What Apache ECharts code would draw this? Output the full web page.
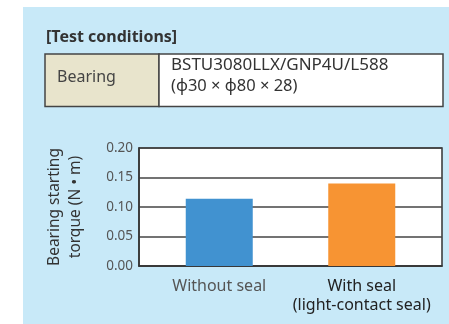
<!DOCTYPE html>
<html>
<head>
<meta charset="utf-8">
<script src="https://cdn.jsdelivr.net/npm/echarts@6/dist/echarts.min.js"></script>
<style>
  html, body { margin: 0; padding: 0; background: #fff; }
  #chart { width: 449px; height: 324px; }
</style>
</head>
<body>
<div id="chart"></div>
<script>
// values
const categories = ['Without seal', 'With seal\n(light-contact seal)']
const torque = [0.114, 0.14]
const barColors = ['#4192d0', '#f79433']
const yTicks = [0, 0.05, 0.1, 0.15, 0.2]

const FONT = '"Noto Sans", "Open Sans", sans-serif'
const yMax = yTicks[yTicks.length - 1]

let chart = echarts.init(document.getElementById('chart'), null, { width: 449, height: 324 })

chart.setOption({
  animation: false,
  textStyle: { fontFamily: FONT },
  graphic: [
    // light blue panel
    { type: 'rect', z: -10, shape: { x: 23, y: 7, width: 430, height: 320 }, style: { fill: '#c8e9f8' } },
    { type: 'text', left: 46, top: 29, style: { text: '[Test conditions]', font: 'bold 16px ' + FONT, fill: '#333' } },
    // table
    { type: 'rect', shape: { x: 45, y: 54, width: 114, height: 52.5 }, style: { fill: '#e8e4cc', stroke: '#444', lineWidth: 1.5 } },
    { type: 'rect', shape: { x: 159, y: 54, width: 284, height: 52.5 }, style: { fill: '#fff', stroke: '#444', lineWidth: 1.5 } },
    { type: 'text', left: 57, top: 69, style: { text: 'Bearing', font: '16px ' + FONT, fill: '#444' } },
    { type: 'text', left: 171, top: 57, style: { text: 'BSTU3080LLX/GNP4U/L588', font: '17px ' + FONT, fill: '#333' } },
    { type: 'text', left: 171, top: 78, style: { text: '(\u03d530 \u00d7 \u03d580 \u00d7 28)', font: '16.5px ' + FONT, fill: '#333' } }
  ],
  grid: [
    // frame + gridlines
    { left: 139, top: 148, right: 7, bottom: 58, show: true, backgroundColor: '#fff', borderColor: '#333', borderWidth: 1.5 },
    // bars sit slightly inward of the frame
    { left: 148, top: 148, right: 16, bottom: 58 }
  ],
  xAxis: [
    { gridIndex: 0, type: 'category', data: categories, axisTick: { show: false }, axisLabel: { show: false },
      axisLine: { lineStyle: { color: '#333', width: 1.5 } } },
    { gridIndex: 1, type: 'category', data: categories, axisTick: { show: false }, axisLine: { show: false },
      axisLabel: {
        interval: 0,
        margin: 11,
        fontSize: 16,
        lineHeight: 19,
        color: (v, i) => i === 0 ? '#555' : '#222'
      } }
  ],
  yAxis: [
    {
      gridIndex: 0,
      type: 'value',
      min: 0,
      max: yMax,
      interval: 0.05,
      name: 'Bearing starting\ntorque (N \u2022 m)',
      nameLocation: 'middle',
      nameGap: 53,
      nameTextStyle: { fontSize: 15.5, lineHeight: 21, color: '#333' },
      axisLine: { show: true, lineStyle: { color: '#333', width: 1.5 } },
      axisTick: { show: false },
      axisLabel: { fontSize: 13.5, color: '#555', margin: 6, formatter: v => v.toFixed(2) },
      splitLine: { lineStyle: { color: '#444', width: 1.5 } }
    },
    { gridIndex: 1, type: 'value', min: 0, max: yMax, show: false, splitLine: { show: false } }
  ],
  series: [{
    type: 'bar',
    xAxisIndex: 1,
    yAxisIndex: 1,
    barWidth: 67,
    data: torque.map((v, i) => ({ value: v, itemStyle: { color: barColors[i] } }))
  }]
})
</script>
</body>
</html>
